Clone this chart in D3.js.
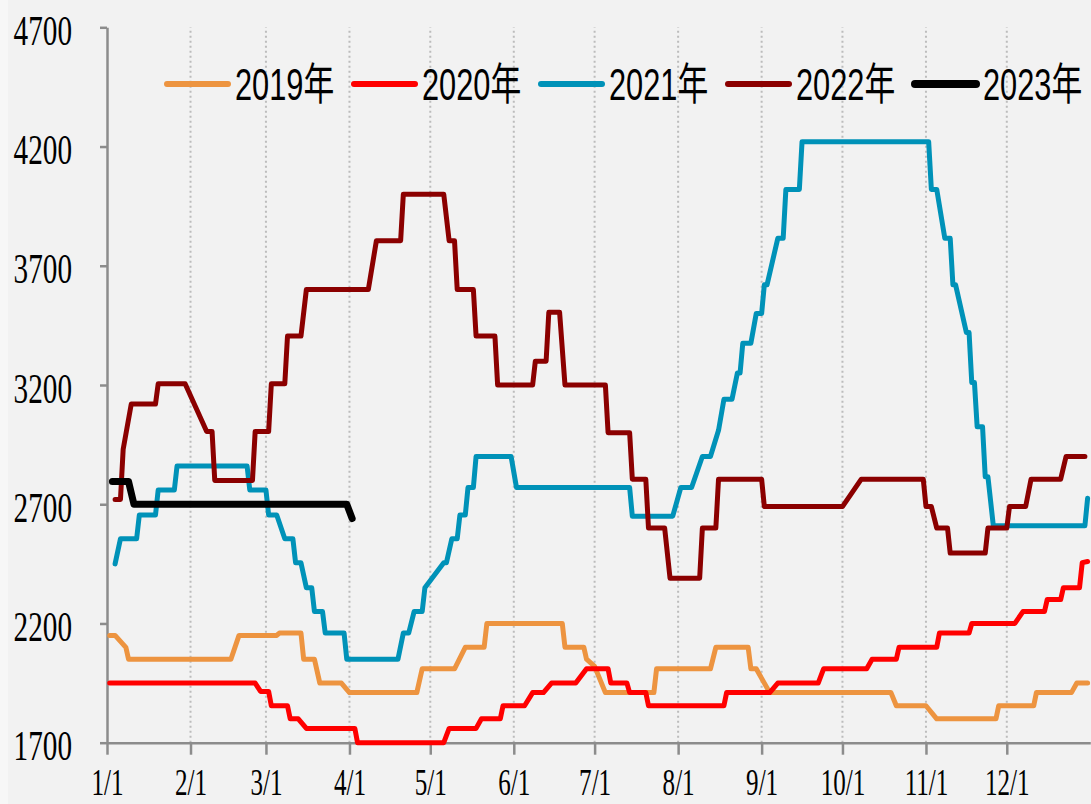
<!DOCTYPE html>
<html>
<head>
<meta charset="utf-8">
<script src="https://cdn.jsdelivr.net/npm/d3@7"></script>
<style>
  html, body { margin: 0; padding: 0; background: #f2f2f2; }
  svg { display: block; }
</style>
</head>
<body>
<div id="chart"></div>
<script>
// Chart data: [date (M/D), price]

var yearNames = ["2019年", "2020年", "2021年", "2022年", "2023年"];
var yTicks = [1700, 2200, 2700, 3200, 3700, 4200, 4700];
var monthLabels = ["1/1", "2/1", "3/1", "4/1", "5/1", "6/1", "7/1", "8/1", "9/1", "10/1", "11/1", "12/1"];

var s2019 = [
  ["1/2", 2150], ["1/4", 2150], ["1/8", 2100], ["1/9", 2050], ["2/16", 2050], ["2/19", 2150],
  ["3/5", 2150], ["3/6", 2160], ["3/14", 2160], ["3/15", 2050], ["3/19", 2050], ["3/21", 1950],
  ["3/29", 1950], ["4/1", 1910], ["4/26", 1910], ["4/28", 2010], ["5/10", 2010], ["5/14", 2100],
  ["5/21", 2100], ["5/22", 2200], ["6/19", 2200], ["6/20", 2100], ["6/27", 2100], ["6/28", 2050],
  ["7/1", 2020], ["7/5", 1910], ["7/23", 1910], ["7/24", 2010], ["8/13", 2010], ["8/15", 2100],
  ["8/27", 2100], ["8/28", 2010], ["8/30", 2010], ["9/4", 1910], ["10/19", 1910], ["10/21", 1855],
  ["11/1", 1855], ["11/5", 1800], ["11/27", 1800], ["11/28", 1855], ["12/11", 1855], ["12/12", 1910],
  ["12/25", 1910], ["12/27", 1950], ["12/31", 1950]
];

var s2020 = [
  ["1/2", 1950], ["2/25", 1950], ["2/27", 1915], ["3/2", 1915], ["3/3", 1855], ["3/9", 1855],
  ["3/10", 1800], ["3/13", 1800], ["3/16", 1760], ["4/3", 1760], ["4/4", 1700], ["5/6", 1700],
  ["5/8", 1760], ["5/18", 1760], ["5/20", 1800], ["5/27", 1800], ["5/28", 1855], ["6/5", 1855],
  ["6/8", 1910], ["6/12", 1910], ["6/15", 1950], ["6/24", 1950], ["6/28", 2010], ["7/6", 2010],
  ["7/7", 1950], ["7/13", 1950], ["7/14", 1910], ["7/20", 1910], ["7/21", 1855], ["8/18", 1855],
  ["8/19", 1910], ["9/4", 1910], ["9/7", 1950], ["9/22", 1950], ["9/24", 2010], ["10/10", 2010],
  ["10/12", 2050], ["10/21", 2050], ["10/22", 2100], ["11/5", 2100], ["11/6", 2160], ["11/17", 2160],
  ["11/18", 2200], ["12/4", 2200], ["12/7", 2250], ["12/15", 2250], ["12/16", 2300], ["12/21", 2300],
  ["12/22", 2350], ["12/28", 2350], ["12/29", 2455], ["12/31", 2460]
];

var s2021 = [
  ["1/4", 2450], ["1/6", 2555], ["1/12", 2555], ["1/13", 2655], ["1/19", 2655], ["1/20", 2760],
  ["1/26", 2760], ["1/27", 2860], ["2/22", 2860], ["2/23", 2760], ["3/1", 2760], ["3/2", 2655],
  ["3/5", 2655], ["3/8", 2555], ["3/11", 2555], ["3/12", 2455], ["3/14", 2455], ["3/16", 2350],
  ["3/18", 2350], ["3/19", 2250], ["3/22", 2250], ["3/23", 2160], ["3/30", 2160], ["3/31", 2050],
  ["4/19", 2050], ["4/21", 2160], ["4/23", 2160], ["4/25", 2250], ["4/28", 2250], ["4/29", 2350],
  ["5/6", 2455], ["5/7", 2455], ["5/9", 2555], ["5/11", 2555], ["5/12", 2655], ["5/14", 2655],
  ["5/15", 2770], ["5/17", 2770], ["5/18", 2900], ["5/31", 2900], ["6/2", 2770], ["7/14", 2770],
  ["7/15", 2650], ["7/30", 2650], ["8/2", 2770], ["8/6", 2770], ["8/10", 2900], ["8/13", 2900],
  ["8/16", 3010], ["8/18", 3140], ["8/21", 3140], ["8/23", 3250], ["8/24", 3250], ["8/25", 3375],
  ["8/28", 3375], ["8/30", 3500], ["9/1", 3500], ["9/2", 3620], ["9/3", 3620], ["9/7", 3815],
  ["9/9", 3815], ["9/10", 4020], ["9/15", 4020], ["9/16", 4220], ["11/2", 4220], ["11/3", 4020],
  ["11/5", 4020], ["11/8", 3815], ["11/10", 3815], ["11/11", 3620], ["11/12", 3620], ["11/16", 3420],
  ["11/17", 3420], ["11/18", 3210], ["11/19", 3210], ["11/20", 3025], ["11/22", 3025], ["11/23", 2815],
  ["11/24", 2815], ["11/26", 2610], ["12/30", 2610], ["12/31", 2725]
];

var s2022 = [
  ["1/4", 2720], ["1/6", 2720], ["1/7", 2930], ["1/10", 3120], ["1/19", 3120], ["1/20", 3205],
  ["1/30", 3205], ["2/7", 3005], ["2/9", 3005], ["2/10", 2800], ["2/24", 2800], ["2/25", 3005],
  ["3/2", 3005], ["3/3", 3205], ["3/8", 3205], ["3/9", 3405], ["3/14", 3405], ["3/16", 3600],
  ["4/8", 3600], ["4/11", 3805], ["4/20", 3805], ["4/21", 4000], ["5/6", 4000], ["5/8", 3805],
  ["5/10", 3805], ["5/11", 3600], ["5/17", 3600], ["5/18", 3405], ["5/25", 3405], ["5/26", 3200],
  ["6/8", 3200], ["6/9", 3300], ["6/13", 3300], ["6/14", 3505], ["6/18", 3505], ["6/20", 3200],
  ["7/5", 3200], ["7/6", 3000], ["7/14", 3000], ["7/15", 2805], ["7/20", 2805], ["7/21", 2600],
  ["7/27", 2600], ["7/29", 2390], ["8/9", 2390], ["8/10", 2600], ["8/15", 2600], ["8/16", 2805],
  ["9/1", 2805], ["9/2", 2690], ["10/1", 2690], ["10/8", 2805], ["10/31", 2805], ["11/1", 2690],
  ["11/3", 2690], ["11/5", 2600], ["11/9", 2600], ["11/10", 2495], ["11/23", 2495], ["11/24", 2600],
  ["12/1", 2600], ["12/2", 2690], ["12/8", 2690], ["12/10", 2805], ["12/21", 2805], ["12/23", 2900],
  ["12/30", 2900]
];

var s2023 = [
  ["1/3", 2795], ["1/9", 2795], ["1/11", 2700], ["3/31", 2700], ["4/2", 2640]
];

var seriesData = [s2019, s2020, s2021, s2022, s2023];
var colors = ["#ED9440", "#FF0000", "#0092B8", "#8B0000", "#000000"];
var widths = [5, 5, 5, 5, 7];

// Set up the chart

var svgWidth = 1091;
var svgHeight = 804;

var margin = { top: 27.3, right: 0.7, bottom: 61.3, left: 107 };

var width = svgWidth - margin.left - margin.right;
var height = svgHeight - margin.top - margin.bottom;

var parseDay = d3.timeParse("%Y/%m/%d");
function toDate(md) { return parseDay("2019/" + md); }

var svg = d3.select("#chart")
  .append("svg")
  .attr("width", svgWidth)
  .attr("height", svgHeight);

svg.append("rect")
  .attr("width", svgWidth).attr("height", svgHeight)
  .attr("fill", "#f2f2f2");
svg.append("rect")
  .attr("width", 8).attr("height", svgHeight)
  .attr("fill", "#f7f7f7");

var chartGroup = svg.append("g")
  .attr("transform", `translate(${margin.left}, ${margin.top})`);

// Scales
var xTimeScale = d3.scaleTime()
  .domain([new Date(2019, 0, 1), new Date(2020, 0, 1)])
  .range([0, width]);

var yLinearScale = d3.scaleLinear()
  .domain([1700, 4700])
  .range([height, 0]);

var monthDates = monthLabels.map(toDate);

// Dotted month gridlines
chartGroup.selectAll(".grid")
  .data(monthDates.slice(1))
  .enter()
  .append("line")
  .attr("x1", d => xTimeScale(d))
  .attr("x2", d => xTimeScale(d))
  .attr("y1", yLinearScale(1700))
  .attr("y2", yLinearScale(4700))
  .attr("stroke", "#bcbcbc")
  .attr("stroke-width", 2)
  .attr("stroke-dasharray", "2,3");

// Axes
var bottomAxis = d3.axisBottom(xTimeScale)
  .tickValues(monthDates)
  .tickFormat((d, i) => monthLabels[i])
  .tickSizeInner(12)
  .tickSizeOuter(0);

var leftAxis = d3.axisLeft(yLinearScale)
  .tickValues(yTicks)
  .tickFormat(d3.format("d"))
  .tickSizeInner(7)
  .tickSizeOuter(0);

var xAxisG = chartGroup.append("g")
  .attr("transform", `translate(0, ${height})`)
  .call(bottomAxis);

var yAxisG = chartGroup.append("g")
  .call(leftAxis);

[xAxisG, yAxisG].forEach(function(g) {
  g.select(".domain").attr("stroke", "#8c8c8c").attr("stroke-width", 2.5);
  g.selectAll(".tick line").attr("stroke", "#8c8c8c").attr("stroke-width", 2.5);
  g.selectAll(".tick text")
    .attr("fill", "#000")
    .style("font-family", "'Liberation Serif', 'Times New Roman', serif")
    .style("font-size", "43px");
});

yAxisG.selectAll(".tick text")
  .attr("x", -35 / 0.68)
  .attr("dy", "0.4em")
  .attr("transform", "scale(0.68,1)");

xAxisG.selectAll(".tick text")
  .attr("y", 52.5)
  .attr("dy", 0)
  .attr("transform", "scale(0.66,1)")
  .style("font-size", "38px");

// Lines
var line = d3.line()
  .x(d => xTimeScale(toDate(d[0])))
  .y(d => yLinearScale(d[1]));

seriesData.forEach(function(s, i) {
  chartGroup.append("path")
    .datum(s)
    .attr("fill", "none")
    .attr("stroke", colors[i])
    .attr("stroke-width", widths[i])
    .attr("stroke-linejoin", "round")
    .attr("stroke-linecap", "round")
    .attr("d", line);
});

// Legend
var legend = svg.append("g")
  .attr("transform", "translate(167, 84)");

var legendItem = legend.selectAll("g")
  .data(yearNames)
  .enter()
  .append("g")
  .attr("transform", (d, i) => `translate(${i * 187}, 0)`);

legendItem.append("line")
  .attr("x1", 0).attr("x2", 61)
  .attr("stroke", (d, i) => colors[i])
  .attr("stroke-width", (d, i) => i === 4 ? 8 : 6)
  .attr("stroke-linecap", "round");

legendItem.append("text")
  .attr("x", 68 / 0.7)
  .attr("y", 16)
  .attr("transform", "scale(0.7,1)")
  .style("font-family", "'Liberation Sans', Arial, 'Noto Sans CJK SC', sans-serif")
  .style("font-size", "44px")
  .attr("fill", "#000")
  .text(d => d);
</script>
</body>
</html>
